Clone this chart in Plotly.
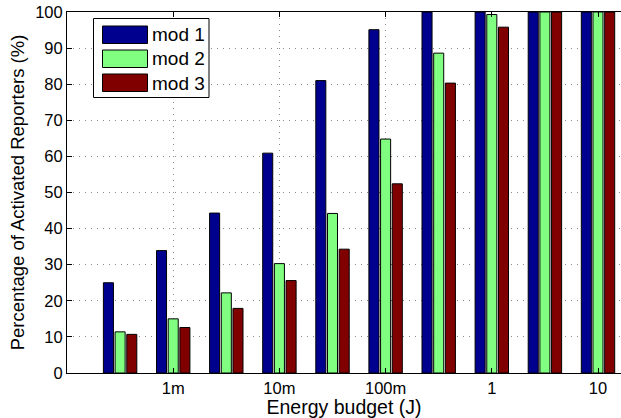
import plotly.graph_objects as go

# Energy budget groups (position index) and the labelled ticks
group_pos = [1, 2, 3, 4, 5, 6, 7, 8, 9, 10]
tick_pos = [2, 4, 6, 8, 10]
tick_text = ["1m", "10m", "100m", "1", "10"]

series_names = ["mod 1", "mod 2", "mod 3"]
mod1 = [25.0, 33.9, 44.3, 60.9, 81.0, 95.1, 100, 100, 100, 100]
mod2 = [11.4, 15.0, 22.2, 30.3, 44.2, 64.8, 88.6, 99.3, 100, 100]
mod3 = [10.7, 12.6, 17.9, 25.6, 34.3, 52.4, 80.3, 95.8, 100, 100]
series_values = [mod1, mod2, mod3]
series_colors = ["#00008F", "#80FF80", "#800000"]

W, H = 621, 418
ML, MR, MT, MB = 67, 0, 12, 45
FONT = "Liberation Sans, Arial, Helvetica, sans-serif"

fig = go.Figure()
for name, vals, col in zip(series_names, series_values, series_colors):
    fig.add_trace(go.Bar(
        x=group_pos, y=vals, name=name,
        marker=dict(color=col, line=dict(color="black", width=1)),
        showlegend=False,
    ))

grid_dash = "1px,5px"
grid_color = "#8a8a8a"
fig.update_layout(
    width=W, height=H,
    margin=dict(l=ML, r=MR, t=MT, b=MB, pad=0),
    paper_bgcolor="white", plot_bgcolor="white",
    barmode="group", bargap=0.34, bargroupgap=0.14,
    font=dict(family=FONT, color="black"),
    xaxis=dict(
        range=[0, 10.433], tickmode="array", tickvals=tick_pos, ticktext=tick_text,
        ticks="inside", ticklen=5, tickcolor="black",
        showline=True, linecolor="black", linewidth=1, mirror="ticks",
        showgrid=True, gridcolor=grid_color, griddash=grid_dash, gridwidth=1,
        zeroline=False, tickfont=dict(size=16.5, family=FONT),
        title=dict(text="Energy budget (J)", font=dict(size=19.5, family=FONT), standoff=3),
    ),
    yaxis=dict(
        range=[0, 100], tickmode="linear", tick0=0, dtick=10,
        ticks="inside", ticklen=5, tickcolor="black",
        showline=True, linecolor="black", linewidth=1, mirror=False,
        showgrid=True, gridcolor=grid_color, griddash=grid_dash, gridwidth=1,
        zeroline=False, tickfont=dict(size=16.5, family=FONT),
        title=dict(text="Percentage of Activated Reporters (%)",
                   font=dict(size=18.5, family=FONT), standoff=5),
    ),
)

# Legend box drawn in paper coordinates (converted from pixels)
pw, ph = W - ML - MR, H - MT - MB


def px_x(p):
    return (p - ML) / pw


def px_y(p):
    return (H - MB - p) / ph


shapes = [dict(type="rect", xref="paper", yref="paper",
               x0=px_x(93.5), x1=px_x(209), y0=px_y(97.5), y1=px_y(18.5),
               line=dict(color="black", width=1), fillcolor="white", layer="above")]
annotations = []
row_tops = [26, 50, 74]
for name, col, top in zip(series_names, series_colors, row_tops):
    shapes.append(dict(type="rect", xref="paper", yref="paper",
                       x0=px_x(102.5), x1=px_x(147.5), y0=px_y(top + 17.5), y1=px_y(top),
                       line=dict(color="black", width=1), fillcolor=col, layer="above"))
    annotations.append(dict(xref="paper", yref="paper", x=px_x(150), y=px_y(top + 9),
                            text=name, showarrow=False, xanchor="left", yanchor="middle",
                            font=dict(size=19, family=FONT, color="black")))
fig.update_layout(shapes=shapes, annotations=annotations)

fig.write_html("out.html")
